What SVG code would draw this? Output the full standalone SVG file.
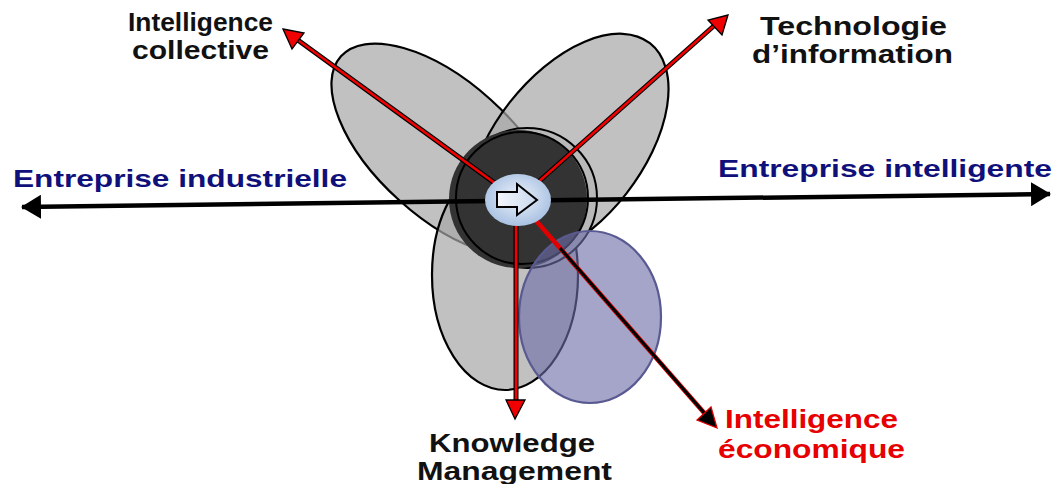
<svg xmlns="http://www.w3.org/2000/svg" width="1060" height="484" viewBox="0 0 1060 484">
<style>
.petal{fill:#a6a6a6;fill-opacity:0.7;stroke:#000;stroke-width:2.2}
.lbl{font-family:"Liberation Sans",Arial,sans-serif;font-weight:bold;font-size:26px}
.blk{fill:#111}
.navy{fill:#10107a;font-size:24px}
.red{fill:#e60000}
.rline-o{stroke:#000;stroke-width:5;fill:none}
.rline-i{stroke:#f00000;stroke-width:2.6;fill:none}
</style>
<defs>
<marker id="bk" viewBox="0 0 20 24" refX="19" refY="12" markerWidth="20" markerHeight="24" markerUnits="userSpaceOnUse" orient="auto-start-reverse">
<path d="M0,0 L20,12 L0,24 Z" fill="#000"/>
</marker>
<radialGradient id="cg" cx="50%" cy="45%" r="55%">
<stop offset="0" stop-color="#eef3fb"/>
<stop offset="1" stop-color="#a9c1e2"/>
</radialGradient>
<linearGradient id="ag" x1="0" y1="0" x2="1" y2="0">
<stop offset="0" stop-color="#f4f7fc"/>
<stop offset="1" stop-color="#c9d8ee"/>
</linearGradient>
</defs>

<g id="petal-left"><ellipse class="petal" cx="445" cy="150" rx="140" ry="68" transform="rotate(42 445 150)"/></g>
<g id="petal-right"><ellipse class="petal" cx="568" cy="148" rx="133" ry="74" transform="rotate(-52 568 148)"/></g>
<g id="petal-bottom"><ellipse class="petal" cx="505" cy="275" rx="73" ry="115"/></g>

<g id="core">
<circle cx="527" cy="198" r="70" fill="#b8b8b8" stroke="#000" stroke-width="2"/>
<circle cx="518" cy="199" r="69" fill="#333"/>
<circle cx="522" cy="198" r="66" fill="none" stroke="#000" stroke-width="2"/>
</g>

<g id="blue-ellipse"><ellipse cx="590" cy="317" rx="71" ry="86" fill="#6e6ea8" fill-opacity="0.62" stroke="#5a5a92" stroke-width="2.2"/></g>

<g id="connectors">
<line x1="22" y1="207" x2="1050" y2="194" stroke="#000" stroke-width="4.5" marker-start="url(#bk)" marker-end="url(#bk)"/>
<line class="rline-o" x1="518" y1="200" x2="295" y2="38"/>
<line class="rline-i" x1="518" y1="200" x2="295" y2="38"/>
<polygon points="283,29 304,33 292,49" fill="#f00000" stroke="#000" stroke-width="1.3"/>
<line class="rline-o" x1="518" y1="200" x2="716" y2="24"/>
<line class="rline-i" x1="518" y1="200" x2="716" y2="24"/>
<polygon points="728,15 722,35 708,20" fill="#f00000" stroke="#000" stroke-width="1.3"/>
<line class="rline-o" x1="516" y1="200" x2="516" y2="404"/>
<line class="rline-i" x1="516" y1="200" x2="516" y2="404"/>
<polygon points="515,419 506,400 525,400" fill="#f00000" stroke="#000" stroke-width="1.3"/>
<line x1="518" y1="200" x2="706" y2="415" stroke="#e00000" stroke-width="4.6"/>
<line x1="560" y1="248" x2="706" y2="415" stroke="#000" stroke-width="3"/>
<polygon points="717,428 697,420 711,407" fill="#000" stroke="#e00000" stroke-width="1.3"/>
</g>

<g id="center">
<ellipse cx="518" cy="200" rx="33" ry="26" fill="url(#cg)"/>
<path d="M497,192 L517,192 L517,184 L537,200 L517,215 L517,207 L497,207 Z" fill="url(#ag)" stroke="#000" stroke-width="2" stroke-linejoin="miter"/>
</g>

<g id="label-intelligence-collective" class="lbl blk">
<text x="128" y="31" textLength="145" lengthAdjust="spacingAndGlyphs">Intelligence</text>
<text x="132" y="59" textLength="137" lengthAdjust="spacingAndGlyphs">collective</text>
</g>
<g id="label-technologie" class="lbl blk">
<text x="760" y="35" textLength="187" lengthAdjust="spacingAndGlyphs">Technologie</text>
<text x="752" y="63" textLength="201" lengthAdjust="spacingAndGlyphs">d’information</text>
</g>
<g id="label-entreprise-industrielle" class="lbl navy">
<text x="13" y="187" textLength="334" lengthAdjust="spacingAndGlyphs">Entreprise industrielle</text>
</g>
<g id="label-entreprise-intelligente" class="lbl navy">
<text x="718" y="177" textLength="334" lengthAdjust="spacingAndGlyphs">Entreprise intelligente</text>
</g>
<g id="label-knowledge" class="lbl blk">
<text x="429" y="452" textLength="166" lengthAdjust="spacingAndGlyphs">Knowledge</text>
<text x="417" y="480" textLength="195" lengthAdjust="spacingAndGlyphs">Management</text>
</g>
<g id="label-intelligence-economique" class="lbl red">
<text x="725" y="428" textLength="173" lengthAdjust="spacingAndGlyphs">Intelligence</text>
<text x="718" y="458" textLength="187" lengthAdjust="spacingAndGlyphs">économique</text>
</g>
</svg>
